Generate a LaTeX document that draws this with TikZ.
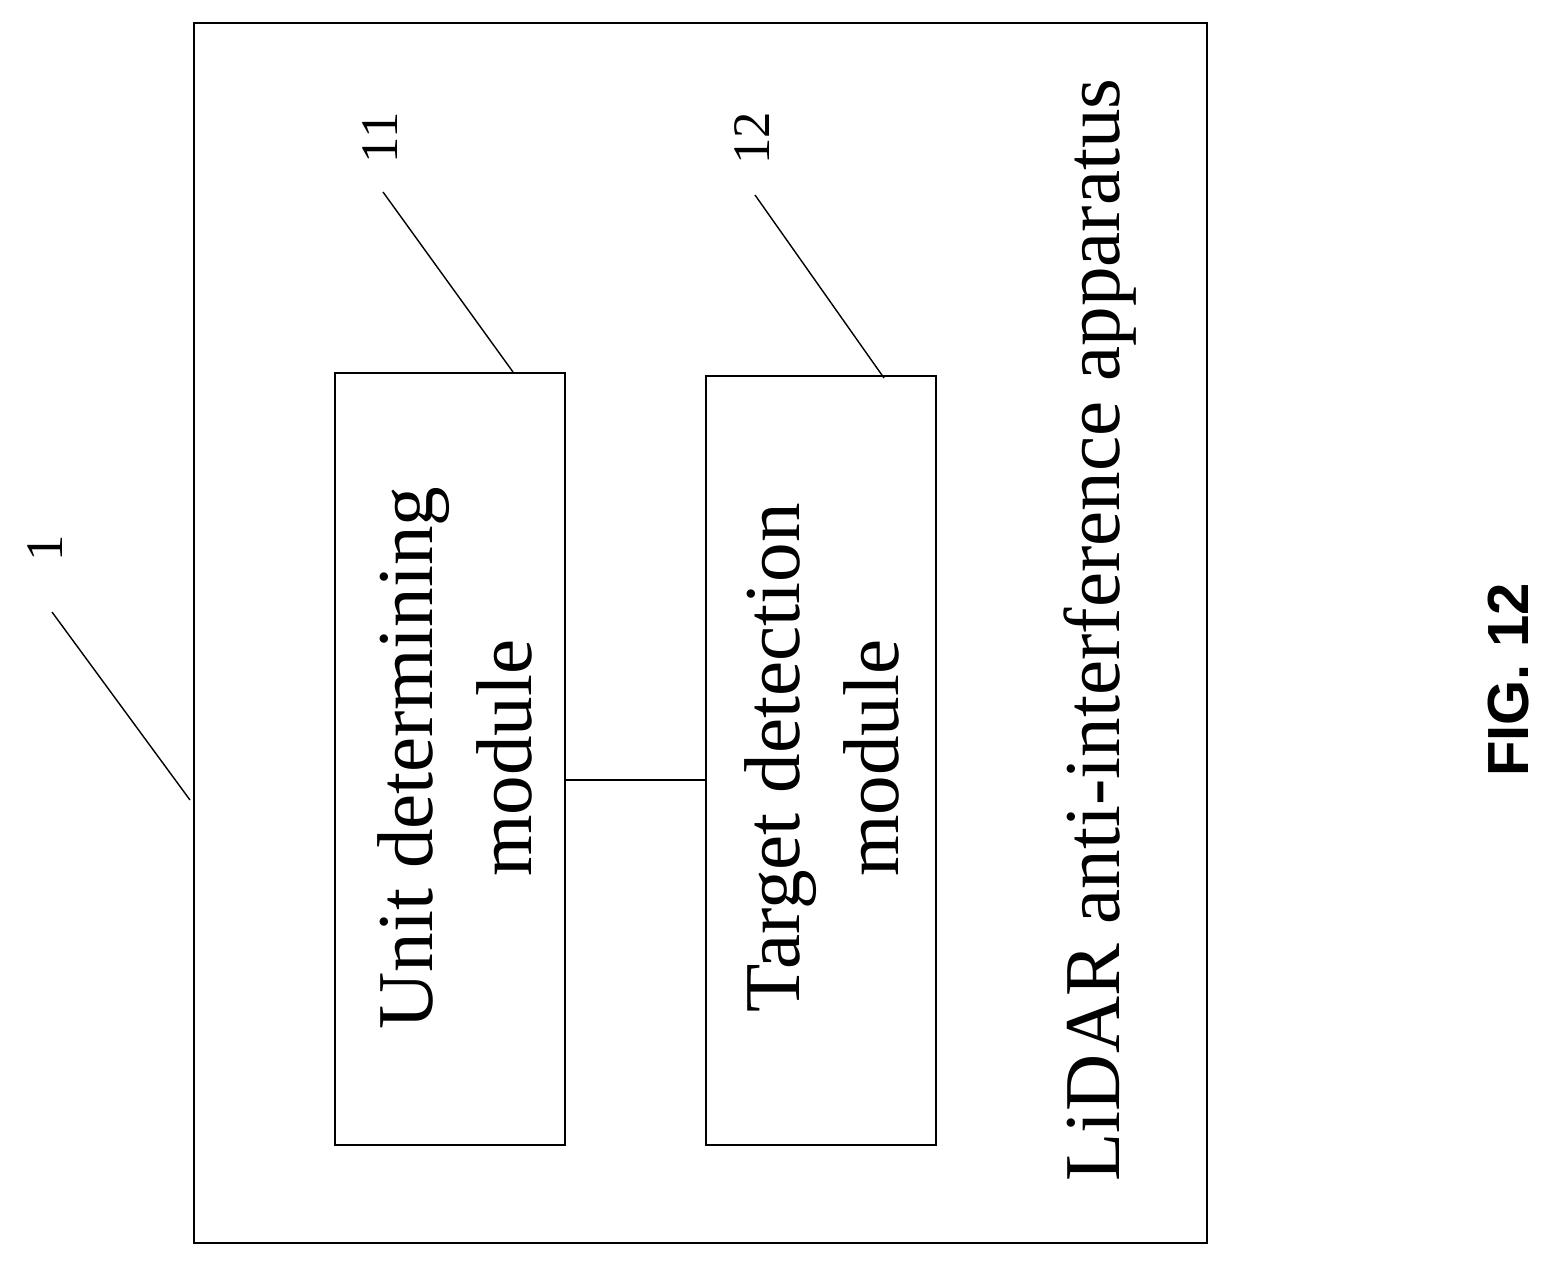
\documentclass[tikz,border=0pt]{standalone}
\usepackage{fontspec}
\setmainfont{Liberation Serif}
\newfontfamily\figfont{Liberation Sans}
\begin{document}
\begin{tikzpicture}[x=0.01cm,y=-0.01cm,
  box/.style={draw,line width=0.6pt},
  lead/.style={draw,line width=0.4pt},
  big/.style={font=\fontsize{22.5}{28}\selectfont,rotate=90,align=center},
  num/.style={font=\fontsize{15}{18}\selectfont,rotate=90}]
\useasboundingbox (0,0) rectangle (1555,1263);
\node[box,minimum width=1013*0.01cm,minimum height=1220*0.01cm,inner sep=0,anchor=north west] (outer) at (193,22) {};
\node[box,minimum width=230*0.01cm,minimum height=772*0.01cm,inner sep=0,anchor=north west] (m11) at (334,372) {};
\node[box,minimum width=230*0.01cm,minimum height=769*0.01cm,inner sep=0,anchor=north west] (m12) at (705,375) {};
\node[big] at (455,758) {Unit determining\\module};
\node[big] at (822,758) {Target detection\\module};
\node[big] (title) at (1100,630) {LiDAR anti-interference apparatus};
\draw[lead] (m11.east |- 0,780) coordinate (c1) -- (m12.west |- 0,780);
\node[num] (n1) at (45,548) {1};
\node[num] (n11) at (380,138) {11};
\node[num] (n12) at (752,138) {12};
\coordinate (t1) at (52,612); \coordinate (t11) at (383,192); \coordinate (t12) at (755,195);
\draw[lead] (t1) -- (190,800);
\draw[lead] (t11) -- (513,372);
\draw[lead] (t12) -- (884,378);
\node[rotate=90,font=\figfont\bfseries\fontsize{16.5}{20}\selectfont] (fig) at (1508,680) {FIG. 12};
\end{tikzpicture}
\end{document}
